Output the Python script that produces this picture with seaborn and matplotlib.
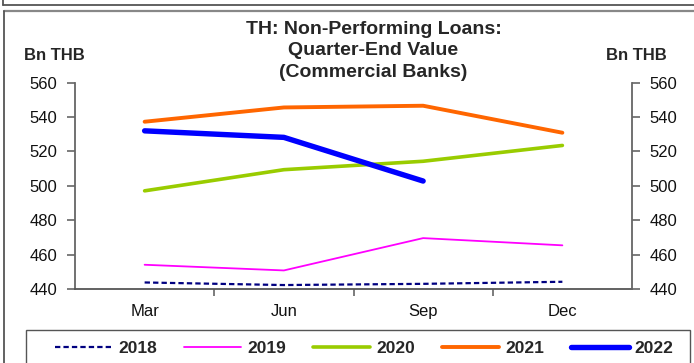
import matplotlib
matplotlib.use("Agg")
import matplotlib.pyplot as plt
import seaborn as sns
import pandas as pd
from matplotlib.patches import Rectangle
from matplotlib.lines import Line2D
from matplotlib.ticker import FixedLocator, NullFormatter

months = ["Mar", "Jun", "Sep", "Dec"]
years = ["2018", "2019", "2020", "2021", "2022"]
v2018 = [443.8, 442.3, 443.0, 444.2]
v2019 = [454.1, 450.8, 469.6, 465.4]
v2020 = [497.1, 509.4, 514.3, 523.5]
v2021 = [537.3, 545.6, 546.6, 530.9]
v2022 = [532.0, 528.2, 502.8]
yticks = [440, 460, 480, 500, 520, 540, 560]

series = {"2018": v2018, "2019": v2019, "2020": v2020, "2021": v2021, "2022": v2022}
rows = []
for y in years:
    for i, v in enumerate(series[y]):
        rows.append({"year": y, "pos": i, "month": months[i], "value": v})
df = pd.DataFrame(rows)

palette = {"2018": "#000080", "2019": "#FF00FF", "2020": "#99CC00", "2021": "#FF6600", "2022": "#0000FF"}
widths = {"2018": 1.6, "2019": 1.3, "2020": 2.6, "2021": 2.8, "2022": 3.9}
dashes = {"2018": (2.4, 1.4), "2019": "", "2020": "", "2021": "", "2022": ""}

sns.set_style("white")
plt.rcParams["font.family"] = ["Liberation Sans", "DejaVu Sans"]

W, H = 694, 363
fig = plt.figure(figsize=(W / 100, H / 100), dpi=100)
ax = fig.add_axes([75 / W, 1 - 289 / H, (632 - 75) / W, (289 - 82.7) / H])

sns.lineplot(data=df, x="pos", y="value", hue="year", style="year", size="year",
             palette=palette, sizes=widths, dashes=dashes, hue_order=years,
             style_order=years, size_order=years, legend=False, ax=ax, sort=False)
for ln in ax.lines:
    ln.set_solid_capstyle("round")
    ln.set_dash_capstyle("butt")

ax.set_xlim(-0.5, 3.5)
ax.set_ylim(440, 560)
ax.set_xlabel("")
ax.set_ylabel("")
ax.set_yticks(yticks)
ax.set_yticklabels([str(t) for t in yticks])
ax.set_xticks(range(len(months)))
ax.set_xticklabels(months)
ax.xaxis.set_minor_locator(FixedLocator([0.5, 1.5, 2.5]))
ax.xaxis.set_minor_formatter(NullFormatter())
ax.tick_params(axis="x", which="major", length=0, pad=11, labelsize=12, colors="#111111")
ax.tick_params(axis="x", which="minor", bottom=True, length=5, width=1.2, color="#666666", direction="out")
ax.tick_params(axis="y", which="major", left=True, length=6, width=1.2, color="#666666",
               direction="out", pad=6.5, labelsize=12, labelcolor="#111111")

ax2 = ax.twinx()
ax2.set_ylim(440, 560)
ax2.set_yticks(yticks)
ax2.set_yticklabels([str(t) for t in yticks])
ax2.tick_params(axis="y", which="major", right=True, length=6, width=1.2, color="#666666",
                direction="out", pad=6.5, labelsize=12, labelcolor="#111111")

for a in (ax, ax2):
    a.spines["top"].set_visible(False)
    a.spines["left"].set_color("#666666")
    a.spines["right"].set_color("#666666")
    a.spines["bottom"].set_color("#555555")
    for s in a.spines.values():
        s.set_linewidth(1.3)
ax.spines["right"].set_visible(False)
ax2.spines["left"].set_visible(False)
ax2.spines["bottom"].set_visible(False)

fig.text(373.5 / W, 1 - 21 / H, "TH: Non-Performing Loans:\nQuarter-End Value\n(Commercial Banks)",
         ha="center", va="top", fontsize=14, fontweight="bold", linespacing=1.33,
         transform=fig.transFigure)
fig.text(54 / W, 1 - 55 / H, "Bn THB", ha="center", va="center", fontsize=12, fontweight="bold")
fig.text(636 / W, 1 - 55 / H, "Bn THB", ha="center", va="center", fontsize=12, fontweight="bold")

# frames
fig.add_artist(Line2D([3 / W, 1.0], [1 - 4.5 / H] * 2, transform=fig.transFigure, color="#555555", lw=1.3))
fig.add_artist(Line2D([3 / W, 3 / W], [1 - 4.5 / H, 1.0], transform=fig.transFigure, color="#555555", lw=1.3))
fig.add_artist(Line2D([3.5 / W, 1.0], [1 - 11 / H] * 2, transform=fig.transFigure, color="#888888", lw=1.6))
fig.add_artist(Line2D([3.5 / W, 3.5 / W], [0, 1 - 11 / H], transform=fig.transFigure, color="#555555", lw=1.3))
fig.add_artist(Rectangle((26 / W, -0.05), (690 - 26) / W, (363 - 330) / H + 0.05,
                         transform=fig.transFigure, fill=False, edgecolor="#555555", lw=1.0))

handles = [Line2D([], [], color=palette[y], lw=widths[y],
                  linestyle=(0, dashes[y]) if dashes[y] else "-",
                  solid_capstyle="round", dash_capstyle="butt") for y in years]
leg = fig.legend(handles, years, loc="center left", bbox_to_anchor=(55 / W, 1 - 348 / H),
                 ncol=5, frameon=False, handlelength=3.3, handletextpad=0.35,
                 columnspacing=1.55, prop={"weight": "bold", "size": 12.5}, borderaxespad=0,
                 borderpad=0)

fig.savefig("out.png", dpi=100)
